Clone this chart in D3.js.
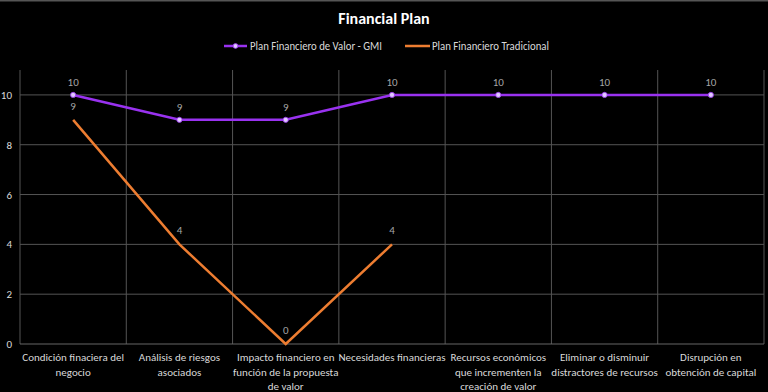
<!DOCTYPE html>
<html><head><meta charset="utf-8">
<script src="https://cdn.jsdelivr.net/npm/d3@7"></script>
<style>body{margin:0;background:#000;}svg{display:block;}</style>
</head><body>
<svg id="c" width="768" height="392"></svg>
<script>
const categories = [
  ["Condición finaciera del","negocio"],
  ["Análisis de riesgos","asociados"],
  ["Impacto financiero en","función de la propuesta","de valor"],
  ["Necesidades financieras"],
  ["Recursos económicos","que incrementen la","creación de valor"],
  ["Eliminar o disminuir","distractores de recursos"],
  ["Disrupción en","obtención de capital"]
];
const seriesNames = ["Plan Financiero de Valor - GMI","Plan Financiero Tradicional"];
const gmiValues = [10, 9, 9, 10, 10, 10, 10];
const tradValues = [9, 4, 0, 4];
const yTicks = [0, 2, 4, 6, 8, 10];

(function(){
const font = "Carlito, Lato, 'Liberation Sans', sans-serif";
const svg = d3.select("#c");
svg.append("rect").attr("width",768).attr("height",392).attr("fill","#000");
svg.append("line").attr("x1",0).attr("x2",768).attr("y1",0.5).attr("y2",0.5).attr("stroke","#555").attr("stroke-width",2);

const mL = 20, mR = 764, mT = 70, mB = 344;
const x = d3.scaleBand().domain(d3.range(categories.length)).range([mL,mR]).padding(0);
const y = d3.scaleLinear().domain([0,11]).range([mB,mT]);
const cx = i => x(i) + x.bandwidth()/2;

const g = svg.append("g");
g.selectAll(".hg").data(yTicks.filter(d=>d>0)).join("line")
  .attr("x1",mL).attr("x2",mR).attr("y1",d=>y(d)).attr("y2",d=>y(d))
  .attr("stroke","#555").attr("stroke-width",1);
g.selectAll(".vg").data(d3.range(categories.length+1)).join("line")
  .attr("x1",d=>mL + d*x.bandwidth()).attr("x2",d=>mL + d*x.bandwidth())
  .attr("y1",mT).attr("y2",mB)
  .attr("stroke","#555").attr("stroke-width",1);
g.append("line").attr("x1",mL).attr("x2",mR).attr("y1",mB).attr("y2",mB).attr("stroke","#666");

const yAxis = d3.axisLeft(y).tickValues(yTicks).tickSize(0).tickPadding(8);
const ya = svg.append("g").attr("transform",`translate(${mL},0)`).call(yAxis);
ya.select(".domain").remove();
ya.selectAll("text").attr("fill","#d9d9d9").style("font-family",font).style("font-size","11px");

categories.forEach((lines,i)=>{
  const t = svg.append("text").attr("x",cx(i)).attr("y",361).attr("text-anchor","middle")
    .attr("fill","#d9d9d9").style("font-family",font).style("font-size","11px");
  lines.forEach((l,j)=>t.append("tspan").attr("x",cx(i)).attr("dy",j===0?0:14.5).text(l));
});

const purple = "#9932f0", orange = "#ed7d31";
const line = d3.line().x((d,i)=>cx(i)).y(d=>y(d));
svg.append("path").attr("d",line(tradValues)).attr("fill","none").attr("stroke",orange).attr("stroke-width",2.5);
svg.append("path").attr("d",line(gmiValues)).attr("fill","none").attr("stroke",purple).attr("stroke-width",2.5);
svg.selectAll(".pm").data(gmiValues).join("circle")
  .attr("cx",(d,i)=>cx(i)).attr("cy",d=>y(d)).attr("r",2.6)
  .attr("fill","#e0c8ff").attr("stroke",purple).attr("stroke-width",0.8);

svg.selectAll(".pl").data(gmiValues).join("text")
  .attr("x",(d,i)=>cx(i)).attr("y",d=>y(d)-9).attr("text-anchor","middle")
  .attr("fill","#a6a6a6").style("font-family",font).style("font-size","11px").text(d=>d);
svg.selectAll(".ol").data(tradValues).join("text")
  .attr("x",(d,i)=>cx(i)).attr("y",d=>y(d)-10).attr("text-anchor","middle")
  .attr("fill","#a6a6a6").style("font-family",font).style("font-size","11px").text(d=>d);

svg.append("text").attr("x",384).attr("y",24).attr("text-anchor","middle")
  .attr("fill","#fff").style("font-family",font).style("font-size","16px").style("font-weight","bold").text("Financial Plan");

const lg = svg.append("g");
lg.append("line").attr("x1",224).attr("x2",247).attr("y1",46).attr("y2",46).attr("stroke",purple).attr("stroke-width",2.5);
lg.append("circle").attr("cx",235.5).attr("cy",46).attr("r",2.4).attr("fill","#e0c8ff").attr("stroke",purple).attr("stroke-width",0.8);
lg.append("text").attr("x",250).attr("y",50).attr("fill","#d9d9d9").style("font-family",font).style("font-size","11.5px")
  .attr("textLength",132).attr("lengthAdjust","spacingAndGlyphs").text(seriesNames[0]);
lg.append("line").attr("x1",405).attr("x2",430).attr("y1",46).attr("y2",46).attr("stroke",orange).attr("stroke-width",2.5);
lg.append("text").attr("x",432).attr("y",50).attr("fill","#d9d9d9").style("font-family",font).style("font-size","11.5px")
  .attr("textLength",117).attr("lengthAdjust","spacingAndGlyphs").text(seriesNames[1]);
})();
</script>
</body></html>
